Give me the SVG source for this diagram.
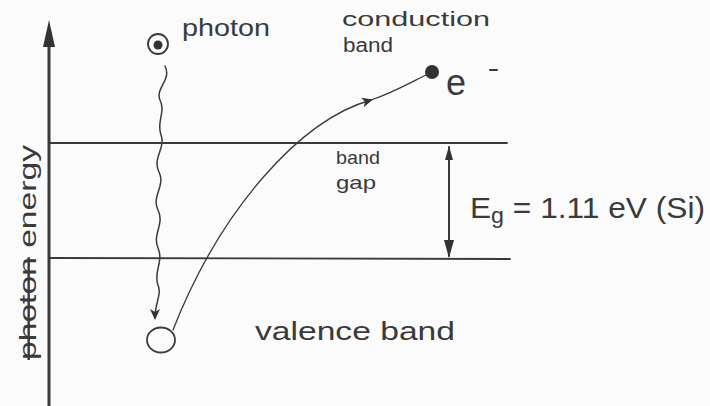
<svg xmlns="http://www.w3.org/2000/svg" width="710" height="406" viewBox="0 0 710 406">
<defs>
<style>
.ln{stroke:#3a3a3a;fill:none;stroke-linecap:round}
.t{font-family:"Liberation Sans","DejaVu Sans",sans-serif;fill:#3a3a3a}
</style>
<marker id="ah" markerWidth="12" markerHeight="12" refX="9" refY="6" orient="auto" markerUnits="userSpaceOnUse">
<path d="M0,1 L11,6 L0,11 L3,6 Z" fill="#333"/>
</marker>
</defs>
<rect width="710" height="406" fill="#fbfbfb"/>
<g id="axis">
<line class="ln" x1="49" y1="40" x2="49" y2="406" stroke-width="3"/>
<path d="M49,20 L43,47 L55,47 Z" fill="#333"/>
<text class="t" font-size="24" transform="translate(36,360) rotate(-90)" textLength="215" lengthAdjust="spacingAndGlyphs"><tspan text-decoration="line-through">photon</tspan> energy</text>
</g>
<g id="conduction-band">
<line class="ln" x1="49" y1="143" x2="507" y2="143" stroke-width="1.8"/>
<text class="t" x="342" y="26" font-size="20" textLength="148" lengthAdjust="spacingAndGlyphs">conduction</text>
<text class="t" x="343" y="52" font-size="20" textLength="50" lengthAdjust="spacingAndGlyphs">band</text>
</g>
<g id="valence-band">
<line class="ln" x1="49" y1="258" x2="510" y2="259" stroke-width="1.8"/>
<text class="t" x="255" y="340" font-size="26" textLength="200" lengthAdjust="spacingAndGlyphs">valence band</text>
</g>
<g id="band-gap">
<text class="t" x="336" y="164" font-size="19" textLength="44" lengthAdjust="spacingAndGlyphs">band</text>
<text class="t" x="336" y="189" font-size="19" textLength="40" lengthAdjust="spacingAndGlyphs">gap</text>
<text class="t" x="470" y="218" font-size="30" textLength="235" lengthAdjust="spacingAndGlyphs">E<tspan font-size="22" dy="5">g</tspan><tspan dy="-5"> = 1.11 eV (Si)</tspan></text>
</g>
<g id="photon">
<circle cx="158" cy="44" r="10" class="ln" stroke-width="1.8"/>
<circle cx="158" cy="45" r="4.5" fill="#333"/>
<text class="t" x="182" y="36" font-size="23" textLength="88" lengthAdjust="spacingAndGlyphs">photon</text>
</g>
<g id="electron">
<circle cx="432" cy="72" r="7" fill="#333"/>
<text class="t" x="446" y="95" font-size="36">e</text>
<line class="ln" x1="490" y1="70" x2="497" y2="70" stroke-width="2"/>
</g>
<g id="hole">
<ellipse cx="161" cy="340" rx="14" ry="12.5" class="ln" stroke-width="1.8"/>
</g>
<g id="connectors">
<path class="ln" stroke-width="1.5" d="M165,66 C172,80 155,88 160,100 C166,112 156,122 161,135 C166,148 152,158 159,172 C166,186 151,196 158,210 C165,224 152,234 158,248 C164,262 153,272 158,285 C162,295 155,302 155,318" marker-end="url(#ah)"/>
<path class="ln" stroke-width="1.3" d="M173,330 C220,210 300,120 371,100" marker-end="url(#ah)"/>
<path class="ln" stroke-width="1.3" d="M371,100 C395,92 415,80 428,74"/>
<line class="ln" x1="449" y1="256" x2="449" y2="147" stroke-width="2"/>
<path d="M449,146 L445,160 L453,160 Z" fill="#333"/>
<path d="M449,258 L444,240 L454,240 Z" fill="#333"/>
</g>
</svg>
